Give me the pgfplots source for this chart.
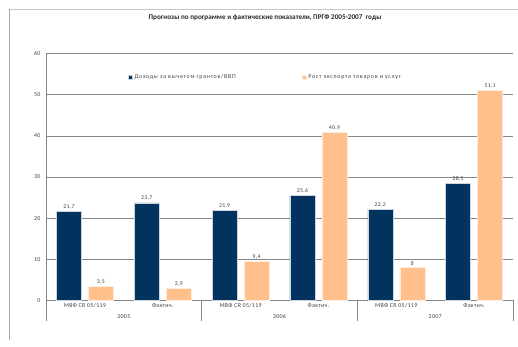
\documentclass[border=0pt]{standalone}
\usepackage{fontspec}
\setmainfont{Carlito}
\newfontfamily\legfont[LetterSpace=12]{Carlito}
\newfontfamily\lblfont[LetterSpace=5]{Carlito}
\usepackage{pgfplots}
\pgfplotsset{compat=1.18}
\definecolor{navy}{RGB}{1,51,94}
\definecolor{peach}{RGB}{255,192,140}
\definecolor{gridgray}{RGB}{134,134,134}
\definecolor{txt}{RGB}{64,64,64}
\begin{document}
\begin{tikzpicture}[x=1bp,y=1bp]
\path[use as bounding box] (0,0) rectangle (518,346);
% outer chart frame
\draw[black!22, line width=0.8bp] (9.5,336.5) -- (518,336.5);
\draw[black!35, line width=0.8bp] (9.5,336.5) -- (9.5,6);
\begin{axis}[
  at={(46bp,45.6bp)}, anchor=south west,
  scale only axis, width=467bp, height=246.8bp,
  ybar=7bp, bar width=25bp,
  xmin=-0.5, xmax=5.5, ymin=0, ymax=60,
  ytick={0,10,...,60},
  xtick=data,
  xticklabels={МВФ CR 05/119, Фактич., МВФ CR 05/119, Фактич., МВФ CR 05/119, Фактич.},
  major tick length=0pt,
  axis x line*=bottom, axis y line*=left,
  axis line style={gridgray, line width=0.8bp},
  ymajorgrids, grid style={gridgray, line width=0.7bp},
  tick label style={font=\lblfont\fontsize{6}{7}\selectfont, text=txt},
  /pgf/number format/assume math mode=true,
  yticklabel style={xshift=-2bp},
  xticklabel style={anchor=center, yshift=-5bp},
  clip=false,
  nodes near coords,
  every node near coord/.append style={font=\lblfont\fontsize{5.8}{6.5}\selectfont, text=txt, inner sep=2bp},
  /pgf/number format/.cd, use comma, fixed, precision=1, 1000 sep={},
  /pgfplots/.cd,
  legend columns=2,
  legend style={at={(0.1756,0.905)}, anchor=west, draw=none, fill=none, inner sep=0pt,
    font=\legfont\fontsize{6}{7}\selectfont, text=txt,
    /tikz/every even column/.append style={column sep=64bp}},
  legend image code/.code={\fill[#1] (0bp,-2bp) rectangle (4bp,2bp);},
]
\addplot[fill=navy, draw=white!80!navy, line width=0.5bp] coordinates {(0,21.7) (1,23.7) (2,21.9) (3,25.6) (4,22.2) (5,28.5)};
\addplot[fill=peach, draw=white!70!peach, line width=0.5bp] coordinates {(0,3.5) (1,2.9) (2,9.4) (3,40.9) (4,8) (5,51.1)};
\legend{Доходы за вычетом грантов/ВВП, Рост экспорта товаров и услуг}
% year group separators and labels
\draw[gridgray, line width=0.8bp] (axis cs:-0.5,0) -- ++(0pt,-21bp);
\draw[gridgray, line width=0.8bp] (axis cs:1.5,0) -- ++(0pt,-21bp);
\draw[gridgray, line width=0.8bp] (axis cs:3.5,0) -- ++(0pt,-21bp);
\draw[gridgray, line width=0.8bp] (axis cs:5.5,0) -- ++(0pt,-21bp);
\node[font=\lblfont\fontsize{6}{7}\selectfont, text=txt] at ([yshift=-16.5bp]axis cs:0.5,0) {2005};
\node[font=\lblfont\fontsize{6}{7}\selectfont, text=txt] at ([yshift=-16.5bp]axis cs:2.5,0) {2006};
\node[font=\lblfont\fontsize{6}{7}\selectfont, text=txt] at ([yshift=-16.5bp]axis cs:4.5,0) {2007};
\end{axis}
\node[font=\bfseries\fontsize{7.2}{8}\selectfont, text=black!85] at (265,328) {Прогнозы по программе и фактические показатели, ПРГФ 2005-2007~~годы};
\end{tikzpicture}
\end{document}
